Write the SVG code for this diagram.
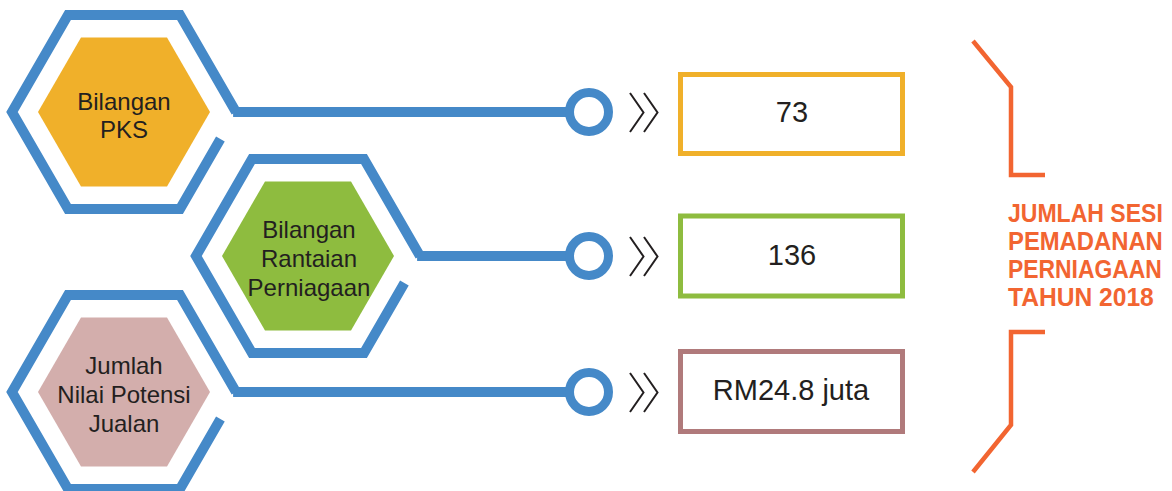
<svg xmlns="http://www.w3.org/2000/svg" width="1172" height="491" viewBox="0 0 1172 491">
<defs>
<style>
.frame{fill:none;stroke:#4589C8;stroke-width:10;stroke-linejoin:miter;stroke-miterlimit:10;stroke-linecap:butt}
.ring{fill:#FFFFFF;stroke:#4589C8;stroke-width:9}
.chev{fill:none;stroke:#231F20;stroke-width:2;stroke-linejoin:miter}
.lbl{font-family:"Liberation Sans",Arial,sans-serif;font-size:24px;fill:#231F20;text-anchor:middle}
.val{font-family:"Liberation Sans",Arial,sans-serif;font-size:29px;fill:#231F20;text-anchor:middle}
.box{fill:#FFFFFF;stroke-width:5}
.brk{fill:none;stroke:#F26531;stroke-width:4.5;stroke-linejoin:miter}
.ttl{font-family:"Liberation Sans",Arial,sans-serif;font-weight:bold;font-size:26px;fill:#F26531}
</style>
</defs>
<rect width="1172" height="491" fill="#FFFFFF"/>

<g id="node-pks">
<path class="frame" d="M220.4,139 L180,209 L68,209 L12,112 L68,15 L180,15 L236,112"/>
<polygon points="38,112 81,37.5 167,37.5 210,112 167,186.5 81,186.5" fill="#F0B02A"/>
<text class="lbl" x="124" y="110">Bilangan</text>
<text class="lbl" x="124" y="138">PKS</text>
</g>

<g id="node-rantaian">
<path class="frame" d="M404.4,283 L364,353 L252,353 L196,256 L252,159 L364,159 L420,256"/>
<polygon points="222,256 265,181.5 351,181.5 394,256 351,330.5 265,330.5" fill="#8EBC3F"/>
<text class="lbl" x="309" y="238">Bilangan</text>
<text class="lbl" x="309" y="267">Rantaian</text>
<text class="lbl" x="309" y="296">Perniagaan</text>
</g>

<g id="node-jualan">
<path class="frame" d="M220.4,419 L180,489 L68,489 L12,392 L68,295 L180,295 L236,392"/>
<polygon points="38,392 81,317.5 167,317.5 210,392 167,466.5 81,466.5" fill="#D3AEAC"/>
<text class="lbl" x="124" y="374">Jumlah</text>
<text class="lbl" x="124" y="403">Nilai Potensi</text>
<text class="lbl" x="124" y="432">Jualan</text>
</g>

<g id="connectors">
<path class="frame" d="M233.1,112 L570,112"/>
<path class="frame" d="M417.1,256 L570,256"/>
<path class="frame" d="M233.1,392 L570,392"/>
<circle class="ring" cx="589" cy="112" r="19.5"/>
<circle class="ring" cx="589" cy="256" r="19.5"/>
<circle class="ring" cx="589" cy="392" r="19.5"/>
<path class="chev" d="M630,93 L643.5,112.5 L630,132 M644,93 L657.5,112.5 L644,132"/>
<path class="chev" d="M630,237 L643.5,256.5 L630,276 M644,237 L657.5,256.5 L644,276"/>
<path class="chev" d="M630,373 L643.5,392.5 L630,412 M644,373 L657.5,392.5 L644,412"/>
</g>

<g id="node-val-pks">
<rect class="box" x="680.5" y="74.5" width="222" height="79" stroke="#F0B02A"/>
<text class="val" x="792" y="122">73</text>
</g>

<g id="node-val-rantaian">
<rect class="box" x="680.5" y="216" width="222" height="80" stroke="#8EBC3F"/>
<text class="val" x="792" y="265">136</text>
</g>

<g id="node-val-jualan">
<rect class="box" x="680.5" y="351.5" width="222" height="80" stroke="#B07A7B"/>
<text class="val" x="791" y="400">RM24.8 juta</text>
</g>

<g id="node-title">
<path class="brk" d="M973,41 L1011,87 L1011,175 L1045,175"/>
<path class="brk" d="M1045,332 L1011,332 L1011,425 L973,472"/>
<g transform="translate(1008,0) scale(0.9,1)">
<text class="ttl" x="0" y="222" textLength="172" lengthAdjust="spacingAndGlyphs">JUMLAH SESI</text>
<text class="ttl" x="0" y="250" textLength="172" lengthAdjust="spacingAndGlyphs">PEMADANAN</text>
<text class="ttl" x="0" y="278" textLength="171" lengthAdjust="spacingAndGlyphs">PERNIAGAAN</text>
<text class="ttl" x="0" y="306" textLength="162" lengthAdjust="spacingAndGlyphs">TAHUN 2018</text>
</g>
</g>
</svg>
